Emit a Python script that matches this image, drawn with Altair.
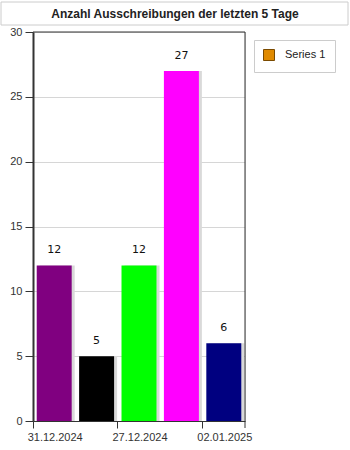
import altair as alt
import pandas as pd

title_text = "Anzahl Ausschreibungen der letzten 5 Tage"
dates = ["31.12.2024", "30.12.2024", "27.12.2024", "03.01.2025", "02.01.2025"]
shown_labels = ["31.12.2024", "27.12.2024", "02.01.2025"]
values = [12, 5, 12, 27, 6]
colors = ["#800080", "#000000", "#00FF00", "#FF00FF", "#000080"]
series_name = "Series 1"

df = pd.DataFrame({"date": dates, "value": values, "color": colors, "series": [series_name] * len(dates)})
title_df = pd.DataFrame({"title": [title_text]})

shown_test = "indexof(" + str(shown_labels) + ", datum.value) >= 0"

FONT = "Liberation Sans"

x_enc = alt.X(
    "date:N",
    sort=dates,
    title=None,
    scale=alt.Scale(paddingInner=0, paddingOuter=0),
    axis=alt.Axis(
        bandPosition=0,
        labelOffset=1,
        labelAngle=0,
        labelExpr=shown_test + " ? datum.label : ''",
        tickOpacity={"condition": {"test": shown_test, "value": 1}, "value": 0},
        tickSize=7,
        tickColor="#333333",
        domainColor="#333333",
        labelFont=FONT,
        labelFontSize=11,
        labelColor="#333333",
        labelPadding=3,
        grid=False,
    ),
)
y_enc = alt.Y(
    "value:Q",
    title=None,
    scale=alt.Scale(domain=[0, 30], nice=False),
    axis=alt.Axis(
        values=[0, 5, 10, 15, 20, 25, 30],
        tickSize=8,
        tickColor="#333333",
        domainColor="#333333",
        domainWidth=2,
        gridColor="#d6d6d6",
        labelFont=FONT,
        labelFontSize=11,
        labelColor="#333333",
        labelPadding=3,
    ),
)

base = alt.Chart(df)

title_box = alt.Chart(title_df).mark_rect(fill="white", stroke="#cccccc", strokeWidth=1).encode(
    x=alt.value(-32), x2=alt.value(315), y=alt.value(-30), y2=alt.value(-7)
)
title_mark = alt.Chart(title_df).mark_text(
    font=FONT, fontSize=12, fontWeight="bold", color="#222222", baseline="middle", align="center"
).encode(x=alt.value(142), y=alt.value(-18), text="title:N")

shadow = base.mark_bar(color="#d9d9d9", width=alt.RelativeBandSize(0.825), xOffset=3).encode(
    x=x_enc, y=y_enc
)
bars = base.mark_bar(width=alt.RelativeBandSize(0.825)).encode(
    x=x_enc, y=y_enc, fill=alt.Fill("color:N", scale=None)
)
labels = base.mark_text(dy=-10, baseline="bottom", font="DejaVu Sans", fontSize=11, color="#111111").encode(
    x=x_enc, y=y_enc, text="value:Q"
)
legend_layer = base.mark_point(opacity=0, filled=True, shape="square").encode(
    x=x_enc,
    y=y_enc,
    color=alt.Color(
        "series:N",
        scale=alt.Scale(range=["#e08a00"]),
        legend=alt.Legend(
            title=None,
            orient="none",
            legendX=221,
            legendY=8,
            symbolType="square",
            symbolSize=121,
            symbolOpacity=1,
            symbolFillColor="#e08a00",
            symbolStrokeColor="#7a4a00",
            symbolStrokeWidth=1,
            labelFont=FONT,
            labelFontSize=11,
            labelColor="#222222",
            labelOffset=10,
            strokeColor="#cccccc",
            padding=9,
            fillColor="white",
        ),
    ),
)
border_top = alt.Chart(title_df).mark_rule(color="#333333").encode(
    x=alt.value(0), x2=alt.value(212), y=alt.value(0)
)
border_right = alt.Chart(title_df).mark_rule(color="#333333").encode(
    x=alt.value(212), y=alt.value(0), y2=alt.value(396)
)

chart = (
    alt.layer(title_box, title_mark, shadow, bars, labels, legend_layer, border_top, border_right)
    .properties(
        width=212,
        height=389,
        padding={"left": 33, "top": 32, "right": 105, "bottom": 29},
        autosize=alt.AutoSizeParams(type="none"),
    )
    .configure_view(stroke="#333333", strokeWidth=1)
    .configure(background="white")
)

chart.save("out.html", embed_options={"renderer": "svg", "actions": False})
